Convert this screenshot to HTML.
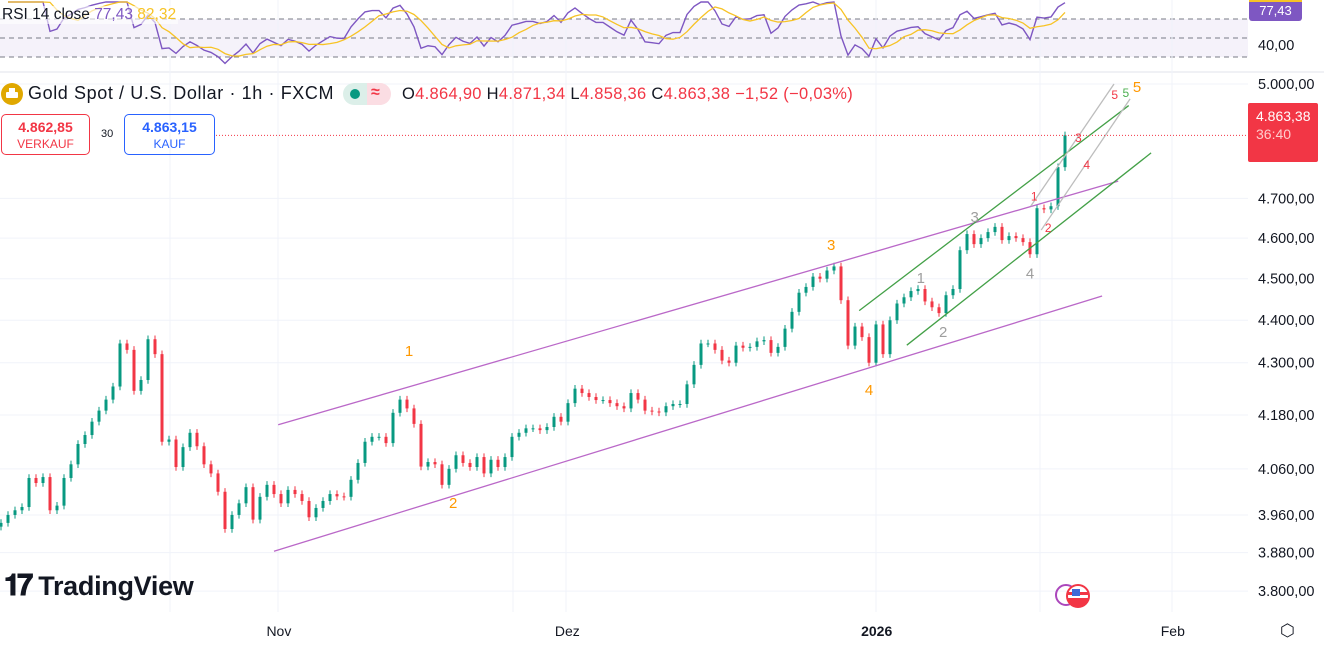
<!DOCTYPE html>
<html><head><meta charset="utf-8">
<style>
html,body{margin:0;padding:0;background:#fff;width:1324px;height:646px;overflow:hidden;font-family:"Liberation Sans",sans-serif;}
#wrap{position:relative;width:1324px;height:646px;}
svg{position:absolute;left:0;top:0;}
.abs{position:absolute;white-space:nowrap;}
</style></head>
<body>
<div id="wrap">
<svg id="chart" width="1324" height="646"></svg>

<div class="abs" style="left:0;top:6px;font-size:15.5px;color:#131722;background:rgba(255,255,255,0.6);padding:0 2px">RSI 14 close <span style="color:#7e57c2">77,43</span> <span style="color:#f7c325">82,32</span></div>

<div class="abs" style="left:1px;top:83px;width:22px;height:22px;border-radius:50%;background:#e0a800"><div style="position:absolute;left:5px;top:9px;width:12px;height:6px;background:#fff;border-radius:1px"></div><div style="position:absolute;left:8px;top:5px;width:6px;height:4px;background:#fff"></div></div>
<div class="abs" style="left:28px;top:83px;font-size:18px;letter-spacing:0.6px;color:#131722">Gold Spot / U.S. Dollar · 1h · FXCM</div>
<div class="abs" style="left:343px;top:83px;width:48px;height:22px;border-radius:11px;overflow:hidden"><div style="position:absolute;left:0;top:0;width:24px;height:22px;background:#dcefe9"></div><div style="position:absolute;left:24px;top:0;width:24px;height:22px;background:#fbdde3"></div><div style="position:absolute;left:7px;top:6px;width:10px;height:10px;border-radius:50%;background:#089981"></div><div style="position:absolute;left:28px;top:1px;color:#f23645;font-size:16px;font-weight:bold">≈</div></div>
<div class="abs" style="left:402px;top:85px;font-size:16.5px;letter-spacing:0.3px;color:#f23645"><span style="color:#131722">O</span>4.864,90 <span style="color:#131722">H</span>4.871,34 <span style="color:#131722">L</span>4.858,36 <span style="color:#131722">C</span>4.863,38 −1,52 (−0,03%)</div>

<div class="abs" style="left:1px;top:114px;width:87px;height:39px;border:1px solid #f23645;border-radius:5px;text-align:center;color:#f23645"><div style="font-size:14px;font-weight:bold;margin-top:4px">4.862,85</div><div style="font-size:12px;margin-top:2px">VERKAUF</div></div>
<div class="abs" style="left:101px;top:128px;font-size:11px;color:#131722">30</div>
<div class="abs" style="left:124px;top:114px;width:89px;height:39px;border:1px solid #2962ff;border-radius:5px;text-align:center;color:#2962ff"><div style="font-size:14px;font-weight:bold;margin-top:4px">4.863,15</div><div style="font-size:12px;margin-top:2px">KAUF</div></div>

<div class="abs" style="left:1249px;top:0;width:53px;height:19px;background:#7e57c2;border-top:2px solid #f7c325;border-radius:0 0 3px 3px;color:#fff;font-size:13px;text-align:center;line-height:17px">77,43</div>
<div class="abs" style="left:1248px;top:103px;width:70px;height:59px;background:#f23645;border-radius:2px;color:#fff;font-size:14px;padding-left:8px;box-sizing:border-box"><div style="margin-top:5px">4.863,38</div><div style="color:#fcc;margin-top:2px">36:40</div></div>

<div class="abs" style="left:4px;top:570px;font-size:27px;font-weight:bold;color:#131722;letter-spacing:-0.3px"><span style="font-size:29px;letter-spacing:-3px;margin-right:8px">𝟏𝟕</span>TradingView</div>
<div class="abs" style="left:1055px;top:584px;width:22px;height:22px;border:2px solid #ab47bc;border-radius:50%;box-sizing:border-box"></div>
<div class="abs" style="left:1066px;top:584px;width:24px;height:24px;border:2px solid #f23645;border-radius:50%;background:linear-gradient(#fff 0,#fff 30%,#f23645 30%,#f23645 45%,#fff 45%,#fff 60%,#f23645 60%);box-sizing:border-box"><div style="position:absolute;left:4px;top:3px;width:8px;height:7px;background:#3f6ad8"></div></div>
<div class="abs" style="left:1280px;top:621px;width:18px;height:18px;font-size:17px;color:#131722">⬡</div>
</div>
<script>
const closes=[3943,3960,3970,3977,4040,4029,4042,3970,3980,4040,4070,4115,4135,4165,4190,4215,4245,4345,4330,4235,4260,4355,4320,4120,4125,4064,4108,4140,4110,4070,4050,4010,3930,3960,3985,4020,3950,3999,4025,4005,3985,4014,4005,3990,3955,3975,3990,4005,4000,3999,4036,4073,4120,4131,4131,4117,4185,4215,4195,4160,4065,4075,4070,4025,4060,4090,4073,4064,4086,4050,4080,4064,4086,4131,4140,4150,4150,4146,4153,4176,4165,4207,4240,4230,4221,4214,4214,4207,4200,4195,4230,4215,4190,4188,4186,4200,4205,4205,4250,4295,4345,4345,4330,4305,4300,4340,4335,4337,4350,4353,4323,4337,4380,4420,4466,4480,4505,4500,4520,4530,4448,4340,4385,4360,4300,4390,4320,4400,4440,4455,4470,4475,4445,4431,4417,4460,4475,4570,4610,4585,4600,4615,4628,4595,4605,4600,4590,4560,4675,4672,4680,4780,4863];
const priceTicks=[5000,4700,4600,4500,4400,4300,4180,4060,3960,3880,3800];
const priceTickLabels=["5.000,00","4.700,00","4.600,00","4.500,00","4.400,00","4.300,00","4.180,00","4.060,00","3.960,00","3.880,00","3.800,00"];
const timeLabels=["Nov","Dez","2026","Feb"];
const timeLabelIdx=[39.7,80.9,125.1,167.4];
const rsiLevels=[70,50,30];
const purpleUpper=[[39.6,4158],[159.6,4744]];
const purpleLower=[[39,3883],[157.3,4458]];
const greenUpper=[[122.6,4423],[161.1,4942]];
const greenLower=[[129.4,4341],[164.3,4817]];
const grayA=[[147.1,4680],[159,5000]];
const grayB=[[148.6,4620],[161.3,4960]];
const waveLabels=[["1",58.3,4316,"#ff9800"],["2",64.6,3975,"#ff9800"],["3",118.6,4570,"#ff9800"],["4",124,4225,"#ff9800"],["5",162.3,4978,"#ff9800"],
["1",131.4,4490,"#9e9e9e"],["2",134.6,4360,"#9e9e9e"],["3",139.1,4640,"#9e9e9e"],["4",147,4500,"#9e9e9e"],
["1",147.6,4695,"#f23645"],["2",149.6,4615,"#f23645"],["3",153.9,4845,"#f23645"],["4",155.1,4775,"#f23645"],["5",159.1,4960,"#f23645"],["5",160.7,4965,"#4caf50"]];

const svg=document.getElementById('chart');
const NS='http://www.w3.org/2000/svg';
const STEP=7, X0=1, RSI_P=7;
const xOf=i=>X0+i*STEP;
const yOf=p=>84+1848*(Math.log(5000)-Math.log(p));
const rsiY=v=>19+(70-v)*0.95;
function mk(tag,attrs,parent){const e=document.createElementNS(NS,tag);for(const k in attrs)e.setAttribute(k,attrs[k]);(parent||svg).appendChild(e);return e;}

mk('rect',{x:0,y:19,width:1248,height:38,fill:'#7e57c2','fill-opacity':0.08});
rsiLevels.forEach(v=>{const l=mk('line',{x1:0,x2:1248,y1:rsiY(v),y2:rsiY(v),stroke:'#787b86','stroke-dasharray':'5,4','stroke-width':1});

});
mk('line',{x1:0,x2:1324,y1:72,y2:72,stroke:'#e0e3eb','stroke-width':1});
const axT=mk('text',{x:1258,y:50,'font-size':14.5,fill:'#131722','font-family':'Liberation Sans'});axT.textContent='40,00';

[170,278,513,566,876,1040,1172].forEach(x=>{mk('line',{x1:x,x2:x,y1:0,y2:612,stroke:'#f0f3fa','stroke-width':1});});
priceTicks.forEach((p,i)=>{const y=yOf(p);
mk('line',{x1:0,x2:1248,y1:y,y2:y,stroke:'#f0f3fa','stroke-width':1});
const t=mk('text',{x:1258,y:y+5,'font-size':14.5,fill:'#131722','font-family':'Liberation Sans'});t.textContent=priceTickLabels[i];

});
timeLabels.forEach((s,i)=>{const t=mk('text',{x:xOf(timeLabelIdx[i]),y:636,'font-size':14,fill:'#131722','text-anchor':'middle','font-family':'Liberation Sans','font-weight':s==='2026'?'bold':'normal'});t.textContent=s;

});

const rsi=[];let ag=0,al=0;
for(let i=1;i<closes.length;i++){const d=closes[i]-closes[i-1];const g=Math.max(d,0),l=Math.max(-d,0);
if(i<=RSI_P){ag+=g/RSI_P;al+=l/RSI_P;}else{ag=(ag*(RSI_P-1)+g)/RSI_P;al=(al*(RSI_P-1)+l)/RSI_P;}
rsi.push(al===0?100:100-100/(1+ag/al));}
let rp='',mp='';
rsi.forEach((v,k)=>{const i=k+1;rp+=(k?'L':'M')+xOf(i)+','+Math.min(66,Math.max(2,rsiY(v)));
const s=rsi.slice(Math.max(0,k-4),k+1);const m=s.reduce((a,b)=>a+b,0)/s.length;mp+=(k?'L':'M')+xOf(i)+','+Math.min(66,Math.max(2,rsiY(m)));});
const rl=mk('path',{d:rp,fill:'none',stroke:'#7e57c2','stroke-width':1.4});


const ml=mk('path',{d:mp,fill:'none',stroke:'#f7c325','stroke-width':1.3});



closes.forEach((c,i)=>{const o=i?closes[i-1]:c-8;const up=c>=o;const col=up?'#089981':'#f23645';
const hi=Math.max(o,c)*1.002,lo=Math.min(o,c)*0.998;const x=xOf(i);
const w=mk('line',{x1:x,x2:x,y1:yOf(hi),y2:yOf(lo),stroke:col,'stroke-width':1});


const yt=yOf(Math.max(o,c)),yb=yOf(Math.min(o,c));
const b=mk('rect',{x:x-1.5,y:yt,width:3,height:Math.max(1,yb-yt),fill:col});

});

function seg(pts,col,name){const l=mk('line',{x1:xOf(pts[0][0]),y1:yOf(pts[0][1]),x2:xOf(pts[1][0]),y2:yOf(pts[1][1]),stroke:col,'stroke-width':1.3});

}
seg(purpleUpper,'#ba68c8','channel-upper-line');seg(purpleLower,'#ba68c8','channel-lower-line');
seg(greenUpper,'#43a047','green-channel-upper');seg(greenLower,'#43a047','green-channel-lower');
seg(grayA,'#bdbdbd','gray-trend-line-a');seg(grayB,'#bdbdbd','gray-trend-line-b');
waveLabels.forEach(w=>{const t=mk('text',{x:xOf(w[1]),y:yOf(w[2]),'font-size':w[3]==='#9e9e9e'||w[3]==='#ff9800'?15:12,fill:w[3],'text-anchor':'middle','font-family':'Liberation Sans'});t.textContent=w[0];

});

const ly=yOf(closes[closes.length-1]);
const pl=mk('line',{x1:216,x2:1248,y1:ly,y2:ly,stroke:'#f23645','stroke-dasharray':'1,2','stroke-width':1});


</script>
</body></html>
